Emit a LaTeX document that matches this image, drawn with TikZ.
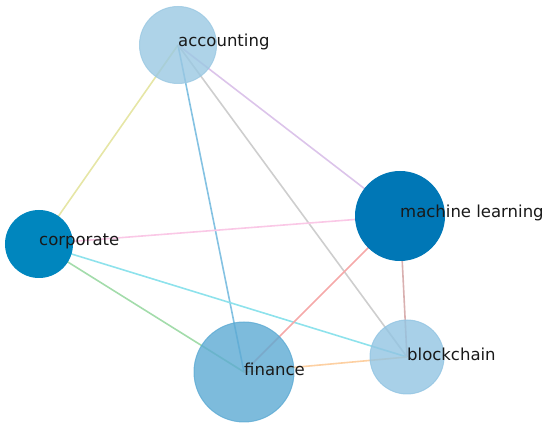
\documentclass[tikz,border=0pt]{standalone}
\usepackage{fontspec}
\setmainfont{DejaVu Sans}
\usepackage{tikz}

\definecolor{accblue}{RGB}{154,200,226}
\definecolor{mlblue}{RGB}{0,119,182}
\definecolor{corpblue}{RGB}{0,134,190}
\definecolor{finblue}{RGB}{92,170,211}
\definecolor{blkblue}{RGB}{146,196,226}
\definecolor{eyellow}{RGB}{230,230,166}
\definecolor{epurple}{RGB}{220,196,234}
\definecolor{eblue}{RGB}{132,194,226}
\definecolor{egray}{RGB}{206,206,206}
\definecolor{epink}{RGB}{250,200,230}
\definecolor{egreen}{RGB}{163,220,171}
\definecolor{ecyan}{RGB}{142,226,236}
\definecolor{esalmon}{RGB}{245,169,169}
\definecolor{ebrown}{RGB}{217,176,176}
\definecolor{eorange}{RGB}{253,208,162}

\begin{document}
\begin{tikzpicture}[x=1pt, y=-1pt]
\tikzset{vertex/.style = {shape=circle, inner sep=0pt, draw=#1, fill=#1, fill opacity=0.8, draw opacity=0.8, line width=1pt}}
\tikzset{solidvertex/.style = {shape=circle, inner sep=0pt, draw=#1, fill=#1, line width=1pt}}
\tikzset{edge/.style = {draw=#1, line width=1.6pt}}
\tikzset{lbl/.style = {anchor=west, inner sep=0pt, yshift=3pt, font=\fontsize{16.5}{18}\selectfont, text=black!90}}
\useasboundingbox (0,0) rectangle (550,427);

% node positions
\coordinate (pacc) at (178,45);
\coordinate (pml) at (400,216);
\coordinate (pcorp) at (39,244);
\coordinate (pfin) at (244,372);
\coordinate (pblk) at (407,357);

% the edges first
\draw[edge=eyellow] (pacc) -- (pcorp);
\draw[edge=epurple] (pacc) -- (pml);
\draw[edge=eblue] (pacc) -- (pfin);
\draw[edge=egray] (pacc) -- (pblk);
\draw[edge=epink] (pcorp) -- (pml);
\draw[edge=egreen] (pcorp) -- (pfin);
\draw[edge=ecyan] (pcorp) -- (pblk);
\draw[edge=esalmon] (pml) -- (pfin);
\draw[edge=ebrown] (pml) -- (pblk);
\draw[edge=eorange] (pfin) -- (pblk);

% the nodes
\node[vertex=accblue, minimum size=77pt] (acc) at (pacc) {};
\node[solidvertex=mlblue, minimum size=89pt] (ml) at (pml) {};
\node[solidvertex=corpblue, minimum size=67pt] (corp) at (pcorp) {};
\node[vertex=finblue, minimum size=100pt] (fin) at (pfin) {};
\node[vertex=blkblue, minimum size=74pt] (blk) at (pblk) {};

% labels
\node[lbl] (accl) at (acc.center) {accounting};
\node[lbl] (mll) at (ml.center) {machine learning};
\node[lbl] (corpl) at (corp.center) {corporate};
\node[lbl] (finl) at (fin.center) {finance};
\node[lbl] (blkl) at (blk.center) {blockchain};
\end{tikzpicture}
\end{document}
